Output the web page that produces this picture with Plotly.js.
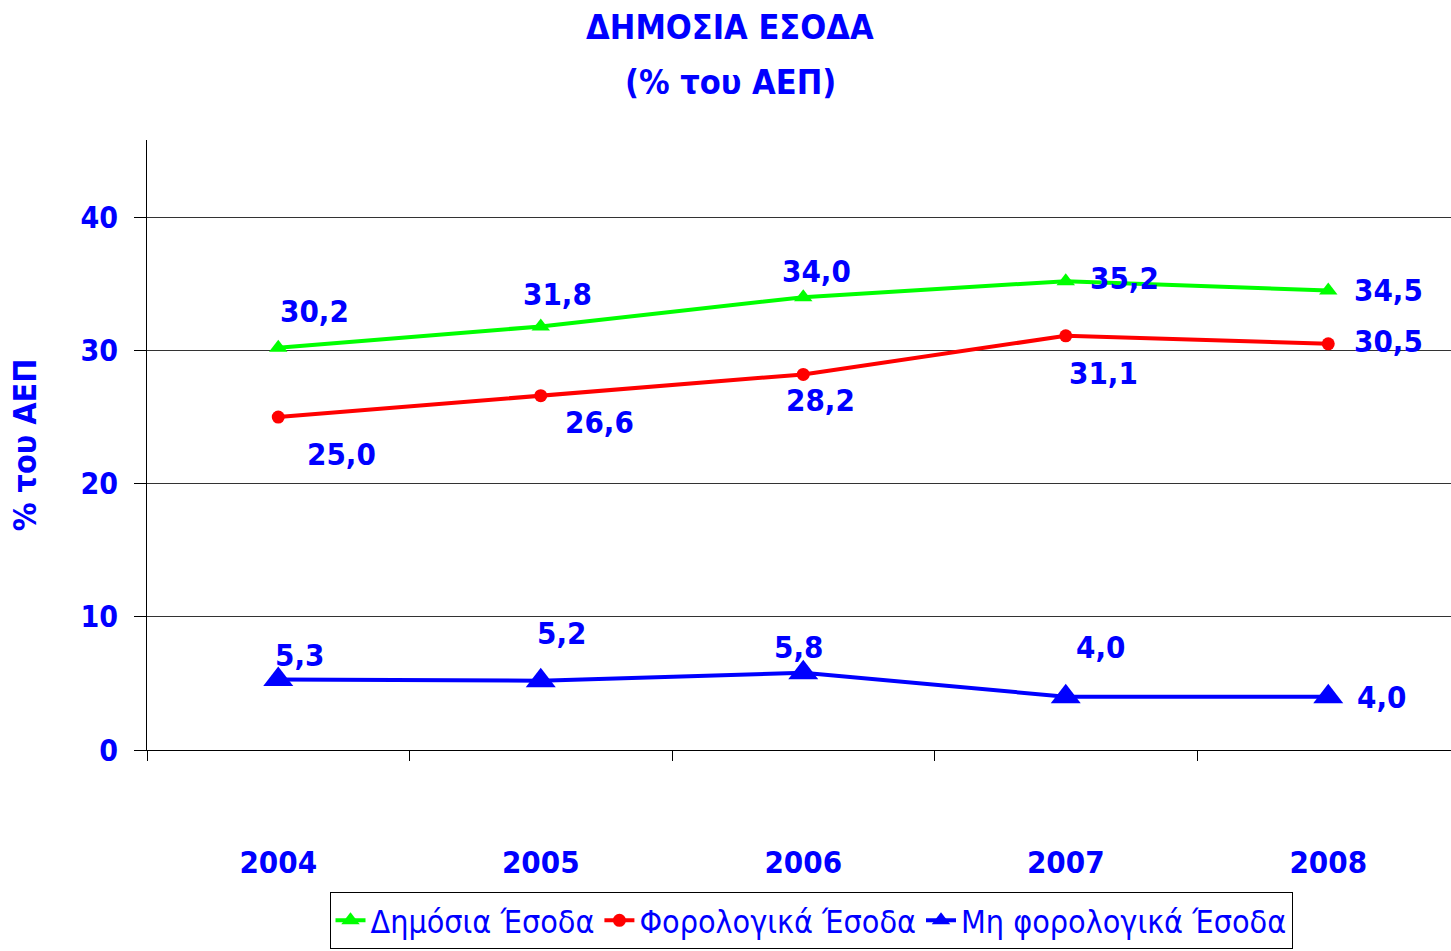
<!DOCTYPE html>
<html>
<head>
<meta charset="utf-8">
<script src="https://cdn.plot.ly/plotly-3.0.1.min.js"></script>
<style>html,body{margin:0;padding:0;background:#fff;}#chart{width:1451px;height:951px;}</style>
</head>
<body>
<div id="chart"></div>
<script>
// ---- data ----
var years = ['2004', '2005', '2006', '2007', '2008'];
var seriesNames = ['Δημόσια Έσοδα', 'Φορολογικά Έσοδα', 'Μη φορολογικά Έσοδα'];
var publicRevenue = [30.2, 31.8, 34.0, 35.2, 34.5];
var taxRevenue = [25.0, 26.6, 28.2, 31.1, 30.5];
var nonTaxRevenue = [5.3, 5.2, 5.8, 4.0, 4.0];
var yTicks = [0, 10, 20, 30, 40];

// ---- label placement (pixel offsets from each point) ----
var labelShift = [
  [[36, 37], [17, 32], [13, 26], [59, 3], [60, 1]],
  [[63, -37], [59, -26], [17, -26], [38, -37], [60, 3]],
  [[21, 24], [21, 48], [-5, 26], [35, 50], [53, 0]]
];

var BLUE = '#0000FF';
var FONT = 'DejaVu Sans Condensed, DejaVu Sans, sans-serif';
var xIdx = years.map(function (_, i) { return i; });
var allSeries = [publicRevenue, taxRevenue, nonTaxRevenue];
var colors = ['#00FF00', '#FF0000', '#0000FF'];
var symbols = ['triangle-up', 'circle', 'triangle-up'];
var msizes = [16, 13, 26];

var traces = allSeries.map(function (vals, s) {
  return {
    x: xIdx, y: vals, name: seriesNames[s], type: 'scatter', mode: 'lines+markers',
    line: {color: colors[s], width: 4},
    marker: {color: colors[s], symbol: symbols[s], size: msizes[s]},
    hoverinfo: 'skip'
  };
});

function fmt(v) { return v.toFixed(1).replace('.', ','); }

var annotations = [];
allSeries.forEach(function (vals, s) {
  vals.forEach(function (v, i) {
    annotations.push({
      x: xIdx[i], y: v, xref: 'x', yref: 'y', text: fmt(v), showarrow: false,
      xshift: labelShift[s][i][0], yshift: labelShift[s][i][1],
      font: {family: FONT, size: 31, color: BLUE, weight: 'bold'}
    });
  });
});
annotations.push({
  text: '(% του ΑΕΠ)', xref: 'paper', yref: 'paper', x: (730 - 147) / 1304, y: (750 - 82) / 610,
  xanchor: 'center', yanchor: 'middle', showarrow: false,
  font: {family: FONT, size: 34, color: BLUE, weight: 'bold'}
});

var boundaries = [];
for (var b = 0; b <= years.length; b++) boundaries.push(b - 0.5);

var layout = {
  width: 1451, height: 951,
  paper_bgcolor: '#fff', plot_bgcolor: '#fff',
  margin: {l: 147, r: 0, t: 140, b: 201},
  title: {
    text: 'ΔΗΜΟΣΙΑ ΕΣΟΔΑ', xref: 'container', yref: 'container', x: 0.503, y: 1 - 27 / 951,
    xanchor: 'center', yanchor: 'middle',
    font: {family: FONT, size: 34, color: BLUE, weight: 'bold'}
  },
  showlegend: true,
  legend: {
    orientation: 'h', xref: 'container', yref: 'container', x: 811 / 1451, y: 1 - 892 / 951,
    xanchor: 'center', yanchor: 'top',
    bordercolor: '#000', borderwidth: 1, bgcolor: '#fff',
    font: {family: FONT, size: 32, color: BLUE},
    itemwidth: 30
  },
  xaxis: {
    range: [-0.5, -0.5 + 1304 / 262.5], tickmode: 'array', tickvals: boundaries,
    ticktext: boundaries.map(function () { return ''; }),
    ticks: 'outside', ticklen: 10, tickcolor: '#000', tickwidth: 1,
    showline: true, linecolor: '#000', linewidth: 1, showgrid: false, zeroline: false,
    fixedrange: true
  },
  xaxis2: {
    overlaying: 'x', matches: 'x', side: 'bottom', tickmode: 'array', tickvals: xIdx, ticktext: years,
    ticks: '', showline: false, showgrid: false, zeroline: false, ticklabelstandoff: 91,
    tickfont: {family: FONT, size: 31, color: BLUE, weight: 'bold'}
  },
  yaxis: {
    range: [0, 45.8], tickmode: 'array', tickvals: yTicks, ticktext: yTicks.map(String),
    ticks: 'outside', ticklen: 12, tickcolor: '#000', tickwidth: 1,
    showline: true, linecolor: '#000', linewidth: 1,
    showgrid: true, gridcolor: '#333', gridwidth: 1, zeroline: false,
    tickfont: {family: FONT, size: 30, color: BLUE, weight: 'bold'},
    ticklabelstandoff: 10,
    title: {text: '% του ΑΕΠ', standoff: 34, font: {family: FONT, size: 32, color: BLUE, weight: 'bold'}}
  },
  annotations: annotations
};

// dummy trace so xaxis2 is drawn
traces.push({x: [0], y: [null], xaxis: 'x2', yaxis: 'y', showlegend: false, hoverinfo: 'skip', mode: 'markers'});

Plotly.newPlot('chart', traces, layout, {displayModeBar: false, staticPlot: true});
</script>
</body>
</html>
